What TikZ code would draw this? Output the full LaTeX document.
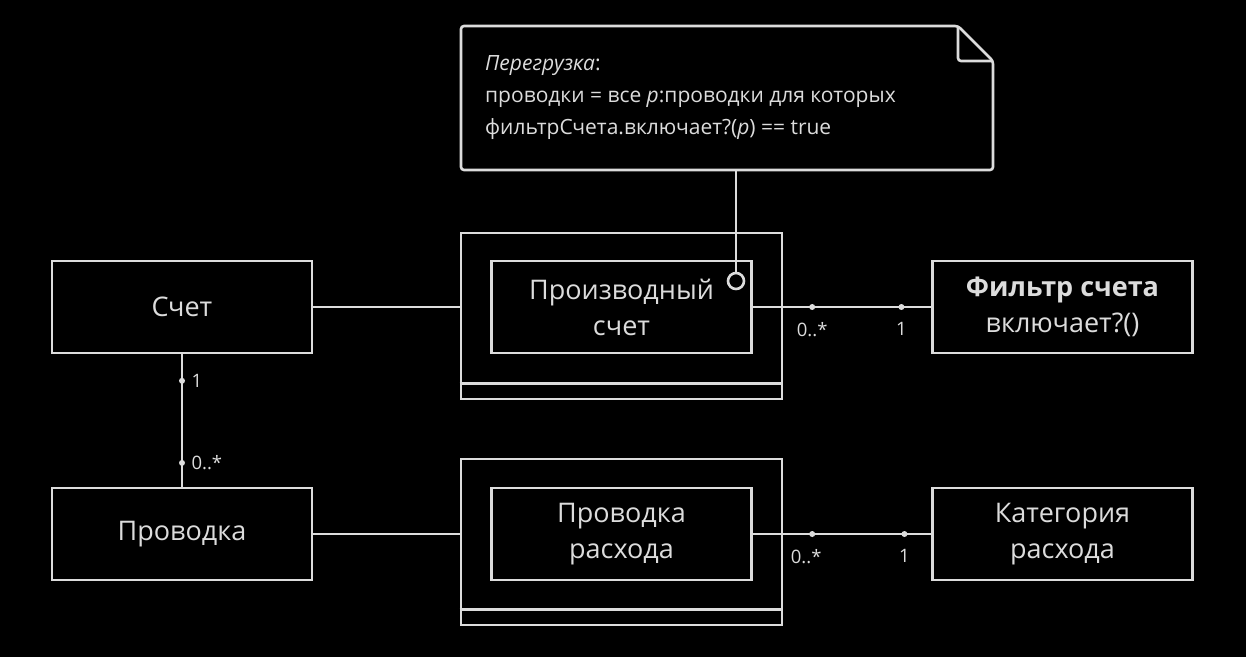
\documentclass[tikz,border=0pt]{standalone}
\usepackage{fontspec}
\setmainfont{Open Sans}
\usetikzlibrary{positioning}
\definecolor{ink}{HTML}{DCDCDC}

\begin{document}
\begin{tikzpicture}[x=1pt, y=-1pt,
  cls/.style={draw=ink, line width=2.6pt, fill=black, minimum width=260pt, minimum height=92pt,
    inner sep=0pt, align=center, text=ink, font=\fontsize{27}{36}\selectfont},
  wrap/.style={draw=ink, line width=2.6pt, fill=black, minimum width=321pt, minimum height=166pt, inner sep=0pt},
  link/.style={draw=ink, line width=2.6pt},
  end/.style={circle, fill=ink, inner sep=0pt, minimum size=6pt},
  mult/.style={text=ink, font=\fontsize{18.5}{20}\selectfont, inner sep=1pt}
]
\fill[black] (0,0) rectangle (1246,657);
\useasboundingbox (0,0) rectangle (1246,657);

% note
\draw[link, rounded corners=3pt, fill=black] (461,26) -- (958,26) -- (993,61) -- (993,170) -- (461,170) -- cycle;
\draw[link, rounded corners=3pt] (958,26) -- (958,61) -- (993,61);
\node[anchor=north west, align=left, text=ink, inner sep=0pt, font=\fontsize{21}{32}\selectfont] (notetext) at (485,55)
  {\textit{Перегрузка}:\\
   проводки = все \textit{p}:проводки для которых\\
   фильтрСчета.включает?(\textit{p}) == true};
\coordinate (notefoot) at (736,170);

% classes
\node[cls] (acct) at (182,307) {Счет};
\node[cls] (entry) at (182,534) {Проводка};
\node[wrap] (dacctw) at (621.5,316) {};
\node[wrap] (dentryw) at (621.5,542) {};
\draw[link] ([yshift=17pt]dacctw.south west) -- ([yshift=17pt]dacctw.south east);
\draw[link] ([yshift=17pt]dentryw.south west) -- ([yshift=17pt]dentryw.south east);
\node[cls] (dacct) at (621.5,307) {Производный\\счет};
\node[cls] (dentry) at (621.5,534) {Проводка\\расхода};
\node[cls] (filter) at (1062.5,307) {\textbf{Фильтр счета}\\включает?()};
\node[cls] (cat) at (1062.5,534) {Категория\\расхода};

% note anchor
\node[circle, draw=ink, line width=2.6pt, fill=black, minimum size=16pt, inner sep=0pt] (pin) at (736,281) {};
\draw[link] (notefoot) -- (pin);

% associations
\draw[link] (acct.east) -- (acct.east -| dacctw.west);
\draw[link] (entry.east) -- (entry.east -| dentryw.west);
\draw[link] (acct) -- node[end, pos=0.2] (a1) {} node[end, pos=0.82] (a2) {} (entry);
\node[mult, right=4pt of a1] {1};
\node[mult, right=4pt of a2] {0..*};
\draw[link] (dacct) -- node[end, pos=0.333] (f1) {} node[end, pos=0.833] (f2) {} (filter);
\node[mult, below=10pt of f1] {0..*};
\node[mult, below=10pt of f2] {1};
\draw[link] (dentry) -- node[end, pos=0.333] (c1) {} node[end, pos=0.85] (c2) {} (cat);
\node[mult, below=10pt of c1, xshift=-6pt] {0..*};
\node[mult, below=10pt of c2] {1};
\end{tikzpicture}
\end{document}
